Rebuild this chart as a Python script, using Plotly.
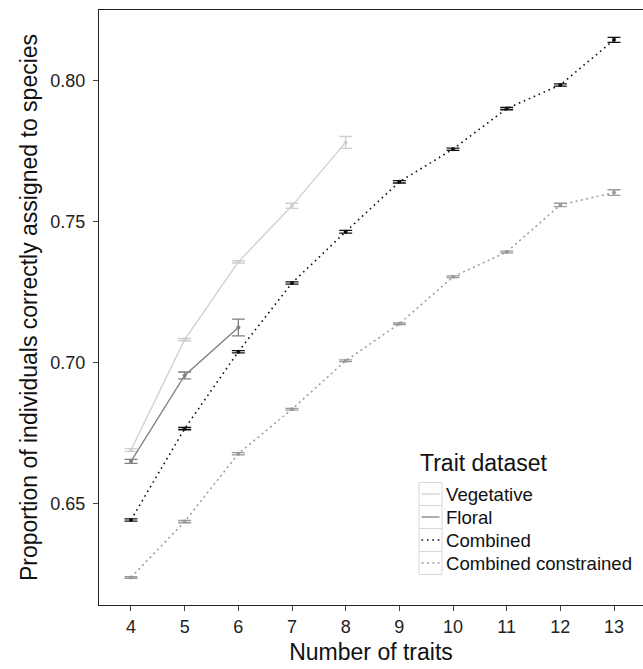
import plotly.graph_objects as go

# ---------------- data ----------------
x_veg = [4, 5, 6, 7, 8]
veg_mean = [0.6690, 0.7082, 0.7358, 0.7557, 0.7782]
veg_err = [0.0005, 0.0004, 0.0004, 0.0009, 0.0021]

x_flo = [4, 5, 6]
flo_mean = [0.6650, 0.6955, 0.7125]
flo_err = [0.0007, 0.0012, 0.0030]

x_comb = [4, 5, 6, 7, 8, 9, 10, 11, 12, 13]
comb_mean = [0.6442, 0.6766, 0.7039, 0.7283, 0.7465, 0.7642, 0.7758, 0.7902, 0.7986, 0.8146]
comb_err = [0.0004, 0.0004, 0.0004, 0.0004, 0.0005, 0.0004, 0.0004, 0.0004, 0.0004, 0.0009]

x_cons = [4, 5, 6, 7, 8, 9, 10, 11, 12, 13]
cons_mean = [0.6238, 0.6436, 0.6677, 0.6835, 0.7007, 0.7138, 0.7305, 0.7393, 0.7560, 0.7604]
cons_err = [0.0003, 0.0004, 0.0004, 0.0003, 0.0003, 0.0003, 0.0003, 0.0003, 0.0006, 0.0010]

series_names = ["Vegetative", "Floral", "Combined", "Combined constrained"]
x_ticks = [4, 5, 6, 7, 8, 9, 10, 11, 12, 13]
y_ticks = [0.65, 0.70, 0.75, 0.80]
y_ticktext = ["0.65", "0.70", "0.75", "0.80"]

# ---------------- styling ----------------
styles = {
    "Vegetative": dict(color="#cfcfcf", dash="solid", width=1.3),
    "Floral": dict(color="#808080", dash="solid", width=1.3),
    "Combined": dict(color="#111111", dash="1.6px,3.8px", width=1.6),
    "Combined constrained": dict(color="#9a9a9a", dash="2px,3.4px", width=1.5),
}

W, H = 643, 669
ML, MR, MT, MB = 99, 0, 10, 64
PW = W - ML - MR
PH = H - MT - MB


def px2paper(px, py):
    return (px - ML) / PW, (H - MB - py) / PH


FONT = "Liberation Sans, Arial, Helvetica, sans-serif"

fig = go.Figure()

data = [
    ("Vegetative", x_veg, veg_mean, veg_err),
    ("Floral", x_flo, flo_mean, flo_err),
    ("Combined", x_comb, comb_mean, comb_err),
    ("Combined constrained", x_cons, cons_mean, cons_err),
]

for name, xs, ys, es in data:
    st = styles[name]
    fig.add_trace(go.Scatter(
        x=xs, y=ys, name=name, mode="lines+markers",
        line=dict(color=st["color"], dash=st["dash"], width=st["width"]),
        marker=dict(color=st["color"], size=4),
        error_y=dict(type="data", array=es, visible=True, color=st["color"],
                     thickness=1.3, width=6.5),
        showlegend=False,
    ))

# ---------------- custom legend (ggplot-like keys) ----------------
shapes = []
annotations = []
tx, ty = px2paper(418, 463)
annotations.append(dict(x=tx, y=ty, xref="paper", yref="paper", text="Trait dataset",
                        showarrow=False, xanchor="left", yanchor="middle",
                        font=dict(family=FONT, size=23, color="#111111")))
centers = [494, 517, 540, 563]
for name, cy in zip(series_names, centers):
    st = styles[name]
    x0, y0 = px2paper(419, cy + 11.5)
    x1, y1 = px2paper(442, cy - 11.5)
    shapes.append(dict(type="rect", xref="paper", yref="paper", x0=x0, x1=x1, y0=y0, y1=y1,
                       line=dict(color="#d8d8d8", width=1), fillcolor="white", layer="above"))
    lx0, ly = px2paper(421.5, cy)
    lx1, _ = px2paper(439.5, cy)
    shapes.append(dict(type="line", xref="paper", yref="paper", x0=lx0, x1=lx1, y0=ly, y1=ly,
                       line=dict(color=st["color"], dash=st["dash"], width=st["width"]),
                       layer="above"))
    ax, ay = px2paper(443.5, cy)
    annotations.append(dict(x=ax, y=ay, xref="paper", yref="paper", text=name,
                            showarrow=False, xanchor="left", yanchor="middle",
                            font=dict(family=FONT, size=18.6, color="#111111")))

fig.update_layout(
    width=W, height=H,
    margin=dict(l=ML, r=MR, t=MT, b=MB, pad=0),
    paper_bgcolor="white", plot_bgcolor="white",
    font=dict(family=FONT, color="#111111"),
    shapes=shapes, annotations=annotations,
    showlegend=False,
    xaxis=dict(
        range=[3.404, 13.540], tickvals=x_ticks, ticktext=[str(v) for v in x_ticks],
        showgrid=False, zeroline=False, showline=True, linecolor="#222222", linewidth=1.2,
        mirror=True, ticks="outside", ticklen=5, tickcolor="#444444", tickwidth=1,
        tickfont=dict(family=FONT, size=18, color="#222222"),
        title=dict(text="Number of traits", font=dict(family=FONT, size=23, color="#111111"),
                   standoff=8),
    ),
    yaxis=dict(
        range=[0.6140, 0.8252], tickvals=y_ticks, ticktext=y_ticktext,
        showgrid=False, zeroline=False, showline=True, linecolor="#222222", linewidth=1.2,
        ticks="outside", ticklen=5, tickcolor="#444444", tickwidth=1,
        tickfont=dict(family=FONT, size=18, color="#222222"),
        ticklabelstandoff=4,
        title=dict(text="Proportion of individuals correctly assigned to species",
                   font=dict(family=FONT, size=23, color="#111111"), standoff=6),
    ),
)

fig.write_html("out.html")
